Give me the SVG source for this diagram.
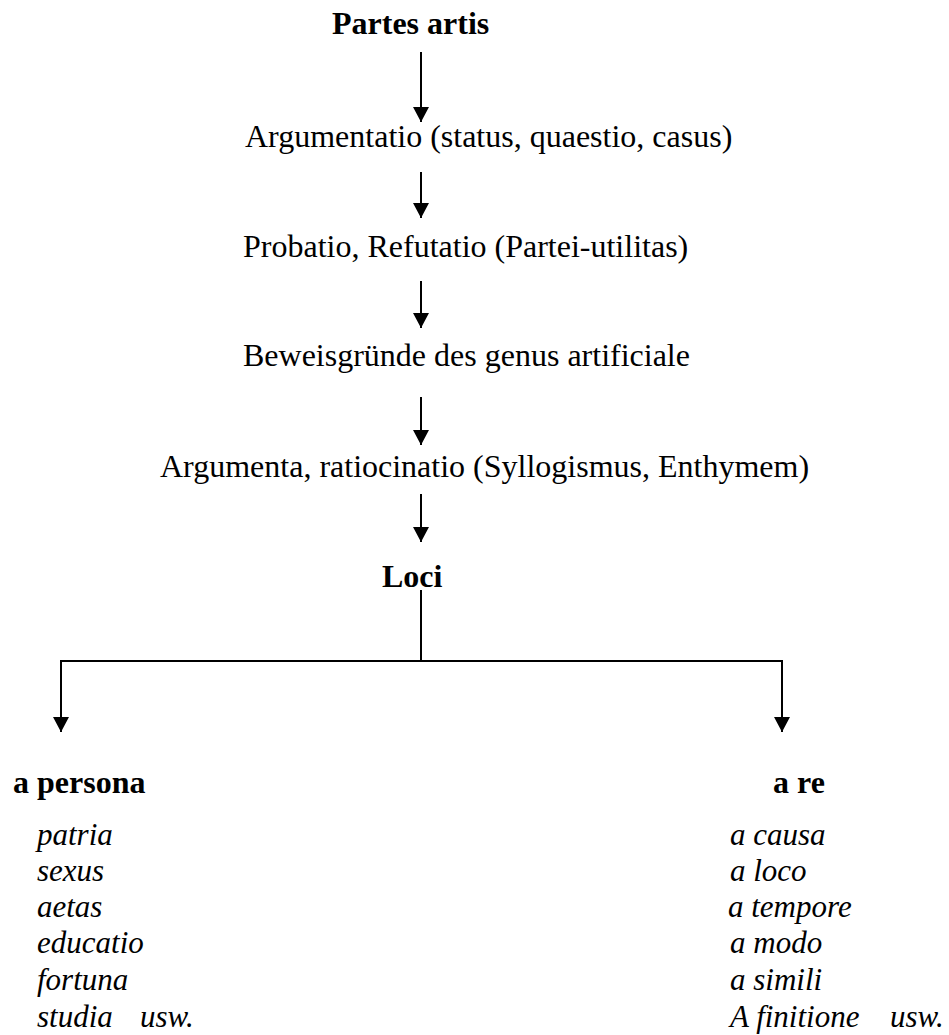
<svg xmlns="http://www.w3.org/2000/svg" width="949" height="1035" viewBox="0 0 949 1035">
<style>
text{font-family:"Liberation Serif","Times New Roman",serif;fill:#000;font-size:32px}
.b{font-weight:bold}
.i{font-style:italic;font-size:31px}
.ln{stroke:#000;stroke-width:2;fill:none}
</style>
<defs>
<marker id="ah" markerWidth="16" markerHeight="16" viewBox="0 0 16 16" refX="15" refY="8" orient="auto" markerUnits="userSpaceOnUse">
<path d="M0,0 L15,8 L0,16 Z" fill="#000"/>
</marker>
</defs>
<rect width="949" height="1035" fill="#fff"/>
<g id="connectors">
<line class="ln" x1="421" y1="52" x2="421" y2="122" marker-end="url(#ah)"/>
<line class="ln" x1="421" y1="172" x2="421" y2="218" marker-end="url(#ah)"/>
<line class="ln" x1="421" y1="281" x2="421" y2="328" marker-end="url(#ah)"/>
<line class="ln" x1="421" y1="397" x2="421" y2="445" marker-end="url(#ah)"/>
<line class="ln" x1="421" y1="494" x2="421" y2="542" marker-end="url(#ah)"/>
<line class="ln" x1="421" y1="590" x2="421" y2="661"/>
<path class="ln" d="M421,661 L61,661 L61,732" marker-end="url(#ah)"/>
<path class="ln" d="M421,661 L782,661 L782,732" marker-end="url(#ah)"/>
</g>
<g id="n-partes"><text class="b" x="332" y="34">Partes artis</text></g>
<g id="n-argumentatio"><text x="245" y="147">Argumentatio (status, quaestio, casus)</text></g>
<g id="n-probatio"><text x="243" y="257">Probatio, Refutatio (Partei-utilitas)</text></g>
<g id="n-beweis"><text x="243" y="366">Beweisgründe des genus artificiale</text></g>
<g id="n-argumenta"><text x="160" y="477">Argumenta, ratiocinatio (Syllogismus, Enthymem)</text></g>
<g id="n-loci"><text class="b" x="382" y="587">Loci</text></g>
<g id="n-persona">
<text class="b" x="13" y="793">a persona</text>
<text class="i" x="37" y="845">patria</text>
<text class="i" x="37" y="881">sexus</text>
<text class="i" x="37" y="917">aetas</text>
<text class="i" x="37" y="953">educatio</text>
<text class="i" x="37" y="990">fortuna</text>
<text class="i" x="37" y="1027">studia</text>
<text class="i" x="140" y="1027">usw.</text>
</g>
<g id="n-re">
<text class="b" x="773" y="793">a re</text>
<text class="i" x="730" y="845">a causa</text>
<text class="i" x="730" y="881">a loco</text>
<text class="i" x="728" y="917">a tempore</text>
<text class="i" x="730" y="953">a modo</text>
<text class="i" x="730" y="990">a simili</text>
<text class="i" x="730" y="1027">A finitione</text>
<text class="i" x="890" y="1027">usw.</text>
</g>
</svg>
